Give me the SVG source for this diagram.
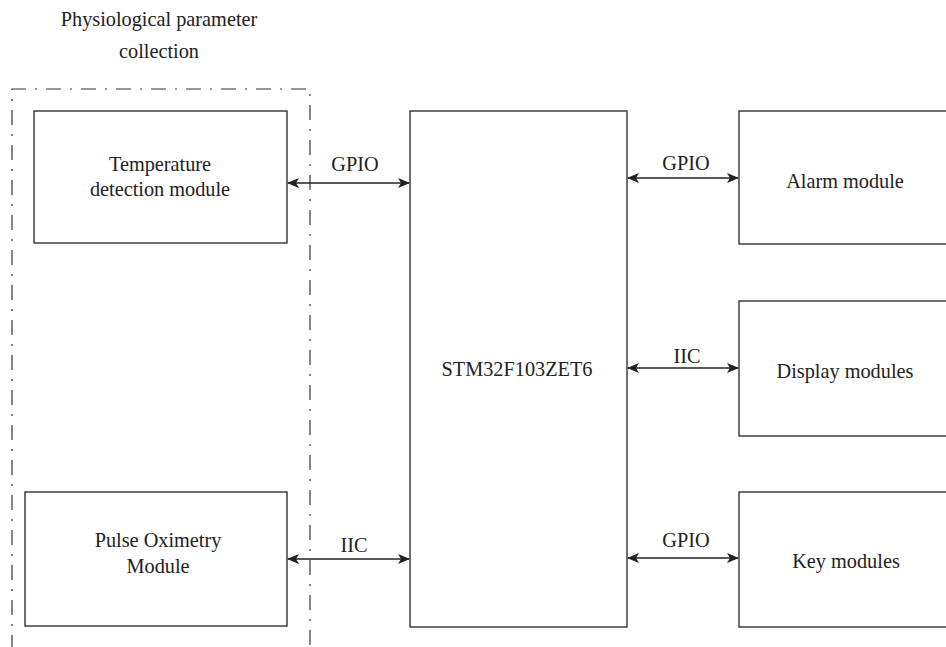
<svg xmlns="http://www.w3.org/2000/svg" width="946" height="647" viewBox="0 0 946 647">
<style>
.box{fill:#fff;stroke:#333;stroke-width:1.4}
.t{font-family:"Liberation Serif",serif;font-size:20.3px;fill:#222;text-anchor:middle}
.c{stroke:#222;stroke-width:1.4;fill:none;marker-start:url(#a);marker-end:url(#a)}
</style>
<defs>
<marker id="a" viewBox="0 0 12 10" refX="11" refY="5" markerWidth="12" markerHeight="10" markerUnits="userSpaceOnUse" orient="auto-start-reverse">
<path d="M0,0 L12,5 L0,10 L3,5 Z" fill="#222"/>
</marker>
</defs>
<rect width="946" height="647" fill="#fff"/>
<g id="group">
<path d="M12,650 V89 H310 V650" fill="none" stroke="#333" stroke-width="1.2" stroke-dasharray="15 9 2 9"/>
<text class="t" x="159" y="26">Physiological parameter</text>
<text class="t" x="159" y="58">collection</text>
</g>
<g id="temp">
<rect class="box" x="34" y="111" width="253" height="132"/>
<text class="t" x="160" y="171">Temperature</text>
<text class="t" x="160" y="196">detection module</text>
</g>
<g id="pulse">
<rect class="box" x="25" y="492" width="262" height="134"/>
<text class="t" x="158" y="547">Pulse Oximetry</text>
<text class="t" x="158" y="573">Module</text>
</g>
<g id="mcu">
<rect class="box" x="410" y="111" width="217" height="516"/>
<text class="t" x="517" y="376">STM32F103ZET6</text>
</g>
<g id="alarm">
<rect class="box" x="739" y="111" width="220" height="133"/>
<text class="t" x="845" y="188">Alarm module</text>
</g>
<g id="display">
<rect class="box" x="739" y="301" width="220" height="135"/>
<text class="t" x="845" y="378">Display modules</text>
</g>
<g id="key">
<rect class="box" x="739" y="492" width="220" height="135"/>
<text class="t" x="846" y="568">Key modules</text>
</g>
<g id="connectors">
<line class="c" x1="288" y1="183" x2="409" y2="183"/>
<line class="c" x1="288" y1="559" x2="409" y2="559"/>
<line class="c" x1="628" y1="178" x2="738" y2="178"/>
<line class="c" x1="628" y1="368" x2="738" y2="368"/>
<line class="c" x1="628" y1="558" x2="738" y2="558"/>
<text class="t" x="355" y="171">GPIO</text>
<text class="t" x="354" y="552">IIC</text>
<text class="t" x="686" y="170">GPIO</text>
<text class="t" x="687" y="363">IIC</text>
<text class="t" x="686" y="547">GPIO</text>
</g>
</svg>
